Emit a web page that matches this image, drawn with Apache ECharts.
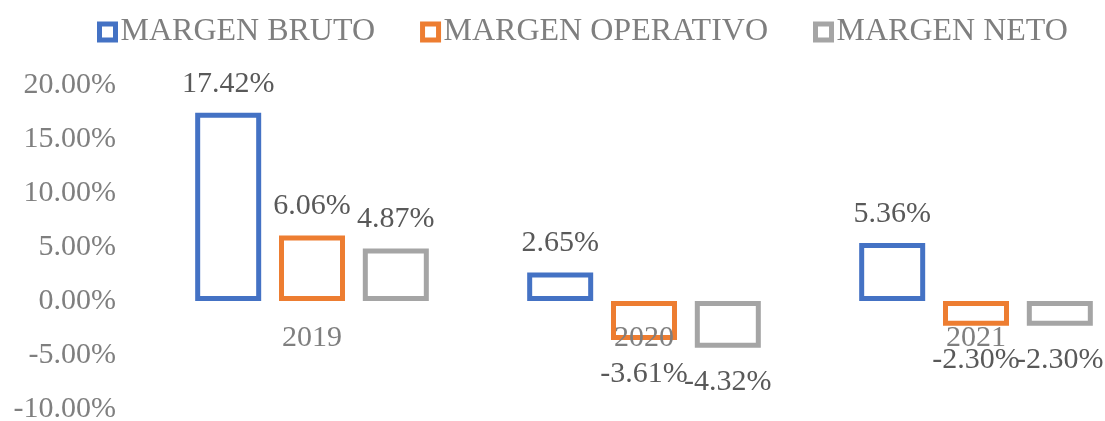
<!DOCTYPE html>
<html>
<head>
<meta charset="utf-8">
<script src="https://cdn.jsdelivr.net/npm/echarts@6/dist/echarts.min.js"></script>
<style>
  html, body { margin: 0; padding: 0; background: #fff; }
  #chart { width: 1105px; height: 421px; }
</style>
</head>
<body>
<div id="chart"></div>
<script>
// datos (porcentajes)
var years = ['2019', '2020', '2021'];
var seriesNames = ['MARGEN BRUTO', 'MARGEN OPERATIVO', 'MARGEN NETO'];
var margenBruto = [17.42, 2.65, 5.36];
var margenOperativo = [6.06, -3.61, -2.30];
var margenNeto = [4.87, -4.32, -2.30];
var yTicks = { min: -10, max: 20, step: 5 };

var colors = ['#4472C4', '#ED7D31', '#A5A5A5'];
var font = "'Liberation Serif', 'Times New Roman', serif";
var gridTop = 85, gridHeight = 324;

var chart = echarts.init(document.getElementById('chart'));

// etiquetas arriba si positivo, abajo si negativo
function toData(values) {
  return values.map(function (v) {
    return {
      value: v,
      label: v < 0 ? { position: 'bottom', distance: 19 } : { position: 'top', distance: 14 }
    };
  });
}

function makeSeries(name, values, color) {
  return {
    name: name,
    type: 'bar',
    barWidth: 66,
    barGap: '27%',
    itemStyle: { color: '#fff', borderColor: color, borderWidth: 5 },
    label: {
      show: true,
      color: '#595959',
      fontFamily: font,
      fontSize: 30,
      formatter: function (p) { return p.value.toFixed(2) + '%'; }
    },
    data: toData(values)
  };
}

var option = {
  animation: false,
  legend: {
    left: 92,
    top: 11,
    itemWidth: 16,
    itemHeight: 16,
    itemGap: 45,
    textStyle: { color: '#7f7f7f', fontFamily: font, fontSize: 32 },
    data: seriesNames.map(function (n, i) {
      return { name: n, icon: 'rect', itemStyle: { color: '#fff', borderColor: colors[i], borderWidth: 5 } };
    })
  },
  grid: { left: 146, top: gridTop, width: 996, height: gridHeight, outerBoundsMode: 'none' },
  xAxis: {
    type: 'category',
    data: years,
    z: 10,
    // eje en 0%: se sube desde el borde inferior
    offset: -gridHeight * (0 - yTicks.min) / (yTicks.max - yTicks.min),
    axisLine: { show: false, onZero: false },
    axisTick: { show: false },
    axisLabel: { color: '#7f7f7f', fontFamily: font, fontSize: 30, margin: 22 }
  },
  yAxis: {
    type: 'value',
    min: yTicks.min,
    max: yTicks.max,
    interval: yTicks.step,
    splitLine: { show: false },
    axisLine: { show: false },
    axisTick: { show: false },
    axisLabel: {
      color: '#7f7f7f',
      fontFamily: font,
      fontSize: 30,
      margin: 30,
      formatter: function (v) { return v.toFixed(2) + '%'; }
    }
  },
  series: [
    makeSeries(seriesNames[0], margenBruto, colors[0]),
    makeSeries(seriesNames[1], margenOperativo, colors[1]),
    makeSeries(seriesNames[2], margenNeto, colors[2])
  ]
};

chart.setOption(option);
</script>
</body>
</html>
